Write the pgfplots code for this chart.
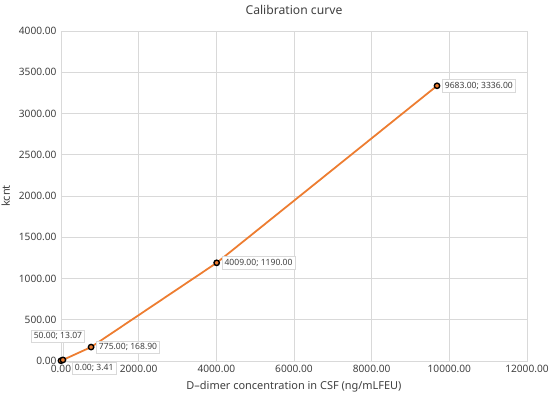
\documentclass[border=0pt]{standalone}
\usepackage{pgfplots}
\pgfplotsset{compat=1.18}
\usepackage{fontspec}
\setmainfont{Noto Sans}
\definecolor{txt}{HTML}{404040}
\definecolor{grd}{HTML}{D9D9D9}
\definecolor{ln}{HTML}{ED7D31}
\begin{document}
\begin{tikzpicture}
\useasboundingbox (-61bp,-39bp) rectangle (490bp,361bp);
\begin{axis}[
    at={(0,0)}, anchor=south west,
    scale only axis,
    width=466bp, height=330bp,
    xmin=0, xmax=12000, ymin=0, ymax=4000,
    xtick distance=2000, ytick distance=500,
    scaled ticks=false,
    grid=major,
    grid style={grd, line width=0.6pt},
    axis line style={grd, line width=0.8pt},
    major tick length=0pt,
    tick label style={font=\fontsize{10.2}{12}\selectfont, text=txt},
    xticklabel style={yshift=-1bp},
    yticklabel style={xshift=-1bp},
    /pgf/number format/.cd, fixed, fixed zerofill, precision=2, 1000 sep={}, assume math mode=true,
    /pgfplots/.cd,
    title={Calibration curve},
    title style={font=\fontsize{12.2}{14}\selectfont, text=txt, at={(0.5,1)}, yshift=7bp},
    xlabel={D--dimer concentration in CSF (ng/mLFEU)},
    ylabel={kcnt},
    label style={font=\fontsize{11}{13}\selectfont, text=txt},
    xlabel style={yshift=-1bp},
    ylabel style={yshift=2bp},
    clip=false,
]
\addplot[ln, line width=1.8pt, mark=*, mark size=2.7pt,
    mark options={draw=black, fill=ln, line width=1.4pt}]
    coordinates {(0,3.41) (50,13.07) (775,168.9) (4009,1190) (9683,3336)};

\tikzset{dl/.style={draw=grd, fill=white, line width=0.6pt, text=txt,
    font=\fontsize{8.6}{10}\selectfont, inner sep=2.6pt}}
\node[dl, anchor=west, xshift=5bp] at (axis cs:9683,3336) {9683.00; 3336.00};
\node[dl, anchor=west, xshift=5bp] at (axis cs:4009,1190) {4009.00; 1190.00};
\node[dl, anchor=west, xshift=5bp] at (axis cs:775,168.9) {775.00; 168.90};
\draw[grd, line width=0.6pt] (axis cs:0,3.41) -- ++(11bp,-2bp);
\node[dl, anchor=north west, xshift=11bp, yshift=-1bp] at (axis cs:0,3.41) {0.00; 3.41};
\draw[grd, line width=0.6pt] (axis cs:50,13.07) -- ++(0,17bp);
\node[dl, anchor=south, xshift=-5bp, yshift=17bp] at (axis cs:50,13.07) {50.00; 13.07};
\end{axis}
\end{tikzpicture}
\end{document}
